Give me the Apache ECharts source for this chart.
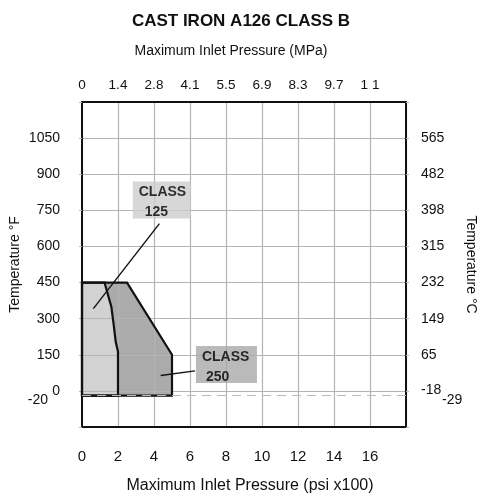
<!DOCTYPE html>
<html>
<head>
<meta charset="utf-8">
<script src="https://cdn.jsdelivr.net/npm/echarts@6/dist/echarts.min.js"></script>
<style>
html, body { margin: 0; background: #fff; }
#chart { width: 482px; height: 495px; }
</style>
</head>
<body>
<div id="chart"></div>
<script>
// tick labels (x in psi x100, y in deg F)
const psiLabels = ['0', '2', '4', '6', '8', '10', '12', '14', '16']
const mpaLabels = ['0', '1.4', '2.8', '4.1', '5.5', '6.9', '8.3', '9.7', '1 1']
const tempFLabels = ['0', '150', '300', '450', '600', '750', '900', '1050']
const tempCLabels = ['-18', '65', '149', '232', '315', '398', '482', '565']

// rating envelopes [pressure psi x100, temperature F]
const class250 = [[0, 450], [2.5, 450], [5, 150], [5, -20], [0, -20]]
const class125 = [[0, 450], [1.25, 450], [1.63, 350], [1.76, 275], [1.87, 205], [2, 163], [2, -20], [0, -20]]
const minTemp = -20

// callouts: leader lines and label anchors (left edge, middle)
const leader125 = [[4.3, 695], [0.63, 342]]
const leader250 = [[6.28, 83], [4.37, 64]]
const callouts = [[2.82, 793, '125'], [6.33, 110, '250']]

const font = '"Liberation Sans", Arial, sans-serif'
const chart = echarts.init(document.getElementById('chart'))

function polygon (api, pts, fill, stroke) {
  return {
    type: 'polygon',
    shape: { points: pts.map(p => api.coord(p)) },
    style: { fill: fill, stroke: stroke, lineWidth: stroke ? 2.2 : 0 }
  }
}

const lowRich = { d: { fontSize: 14, color: '#111', padding: [9, 0, 0, 0] } }

const option = {
  animation: false,
  textStyle: { fontFamily: font, color: '#111' },
  title: {
    text: 'CAST IRON A126 CLASS B',
    left: 'center',
    top: 8,
    textStyle: { fontFamily: font, fontSize: 17, fontWeight: 'bold', color: '#111' }
  },
  grid: { left: 82, top: 102, width: 324, height: 325, containLabel: false, outerBoundsMode: 'none' },
  xAxis: [{
    type: 'value', position: 'bottom', min: 0, max: 18, interval: 2, z: 3,
    name: 'Maximum Inlet Pressure (psi x100)', nameLocation: 'middle', nameGap: 51,
    nameTextStyle: { fontSize: 16, color: '#111', padding: [0, 0, 0, 12] },
    axisLine: { onZero: false, lineStyle: { color: '#111', width: 2 } },
    axisTick: { show: false },
    axisLabel: { fontSize: 15, color: '#111', margin: 22, formatter: v => psiLabels[v / 2] || '' },
    splitLine: { lineStyle: { color: '#b4b4b4', width: 1.2 } }
  }, {
    type: 'value', position: 'top', min: 0, max: 18, interval: 2, z: 3,
    name: 'Maximum Inlet Pressure (MPa)', nameLocation: 'middle', nameGap: 44,
    nameTextStyle: { fontSize: 14, color: '#111', padding: [0, 26, 0, 0] },
    axisLine: { onZero: false, lineStyle: { color: '#111', width: 2 } },
    axisTick: { show: false },
    axisLabel: { fontSize: 13.5, color: '#111', margin: 10, formatter: v => mpaLabels[v / 2] || '' },
    splitLine: { show: false }
  }],
  yAxis: [{
    type: 'value', position: 'left', min: -150, max: 1200, interval: 150, z: 3,
    name: 'Temperature °F', nameLocation: 'middle', nameGap: 60, nameMoveOverlap: false,
    nameTextStyle: { fontSize: 14, color: '#111' },
    axisLine: { onZero: false, lineStyle: { color: '#111', width: 2 } },
    axisTick: { show: true, length: 3, lineStyle: { color: '#bbb' } },
    axisLabel: { fontSize: 14, color: '#111', margin: 22, formatter: v => tempFLabels[v / 150] || '' },
    splitLine: { lineStyle: { color: '#b4b4b4', width: 1.2 } }
  }, {
    type: 'value', position: 'right', min: -150, max: 1200, interval: 150, z: 3,
    name: 'Temperature °C', nameLocation: 'middle', nameGap: 58, nameRotate: -90, nameMoveOverlap: false,
    nameTextStyle: { fontSize: 14, color: '#111' },
    axisLine: { onZero: false, lineStyle: { color: '#111', width: 2 } },
    axisTick: { show: true, length: 3, lineStyle: { color: '#bbb' } },
    axisLabel: {
      fontSize: 14, color: '#111', margin: 15,
      formatter: v => v === 0 ? '{up|' + tempCLabels[0] + '}' : (tempCLabels[v / 150] || ''),
      rich: { up: { fontSize: 14, color: '#111', padding: [0, 0, 1, 0] } }
    },
    splitLine: { show: false }
  }],
  series: [{
    type: 'custom', z: 2, silent: true,
    data: [[0, 0]],
    renderItem: (params, api) => ({
      type: 'group',
      children: [polygon(api, class250, '#ababab'), polygon(api, class125, '#d2d2d2')]
    }),
    markLine: {
      silent: true,
      symbol: 'none',
      lineStyle: { color: '#bbb', type: [9, 6], width: 1.2 },
      data: [
        { yAxis: minTemp, label: { position: 'start', formatter: '{d|-20}', distance: 34, rich: lowRich } },
        { yAxis: minTemp, label: { position: 'end', formatter: '{d|-29}', distance: 36, rich: lowRich } }
      ]
    }
  }, {
    type: 'custom', z: 4, silent: true,
    data: [[0, 0]],
    renderItem: (params, api) => ({
      type: 'group',
      children: [polygon(api, class250, 'none', '#111'), polygon(api, class125, 'none', '#111')]
    })
  }, {
    type: 'line', z: 4, silent: true, symbol: 'none',
    data: leader125,
    lineStyle: { color: '#111', width: 1.4 }
  }, {
    type: 'line', z: 4, silent: true, symbol: 'none',
    data: leader250,
    lineStyle: { color: '#111', width: 1.4 }
  }, {
    type: 'scatter', z: 5, silent: true, symbolSize: 0,
    data: [
      callouts[0],
      { value: callouts[1], label: { backgroundColor: '#a9a9a9', width: 55, rich: { b: { padding: [0, 0, 0, 4] } } } }
    ],
    label: {
      show: true,
      position: 'inside',
      align: 'left',
      width: 52,
      height: 36,
      padding: [1, 0, 0, 6],
      backgroundColor: '#cdcdcd',
      formatter: p => '{a|CLASS}\n{b|' + p.value[2] + '}',
      rich: {
        a: { fontSize: 14, fontWeight: 'bold', color: '#000', lineHeight: 20 },
        b: { fontSize: 14, fontWeight: 'bold', color: '#000', lineHeight: 20, padding: [0, 0, 0, 6] }
      }
    }
  }]
}
chart.setOption(option)
</script>
</body>
</html>
